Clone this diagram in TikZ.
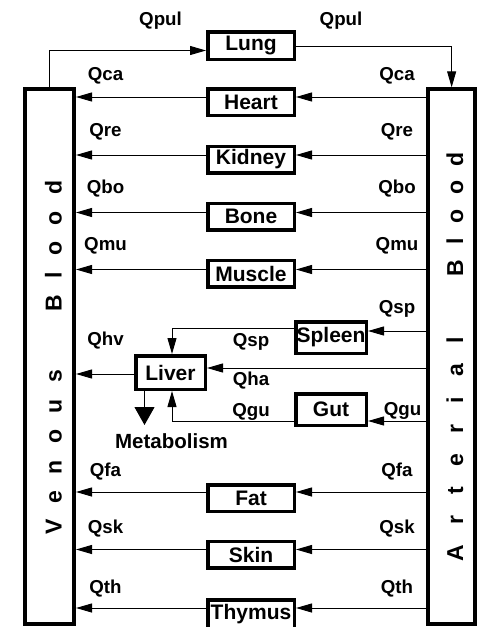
\documentclass[tikz,border=0pt]{standalone}
\usepackage{fontspec}
\setmainfont{Liberation Sans}
\usetikzlibrary{arrows.meta}
\begin{document}
\begin{tikzpicture}[x=1pt,y=-1pt,
  organ/.style={draw, line width=3.5pt, inner sep=0pt, minimum width=86.5pt, minimum height=26.5pt, font=\bfseries\fontsize{21}{21}\selectfont},
  smallorgan/.style={organ, minimum width=70.5pt, minimum height=31.5pt},
  lbl/.style={anchor=base, inner sep=0pt, font=\bfseries\fontsize{18.7}{18.7}\selectfont},
  conn/.style={line width=1pt, -{Triangle[length=16pt,width=9pt]}},
  bloodbox/.style={draw, line width=4pt, inner sep=0pt, minimum height=534.7pt},
  vtext/.style={rotate=90, anchor=base west, inner sep=0pt, font=\bfseries\fontsize{23}{23}\selectfont}]
\useasboundingbox (0,0) rectangle (479,627);
\clip (0,0) rectangle (479,627);
\fill[white] (0,0) rectangle (479,627);

% blood compartments
\node[bloodbox, minimum width=48.7pt] (venous) at (49.65,356.65) {};
\node[bloodbox, minimum width=47.3pt] (arterial) at (451.65,356.65) {};
\node[vtext] (vt1) at (61.5,534.7) {\addfontfeature{LetterSpace=72}Venous};
\node[vtext] (vt2) at (61.5,311.3) {\addfontfeature{LetterSpace=71}Blood};
\node[vtext] (at1) at (463,561.3) {\addfontfeature{LetterSpace=89}Arterial};
\node[vtext] (at2) at (463,276.3) {\addfontfeature{LetterSpace=64}Blood};

% organs
\node[organ, minimum height=27.5pt] (lung) at (251,45.5) {Lung};
\node[organ] (heart) at (251,102) {Heart};
\node[organ] (kidney) at (251,159.5) {Kidney};
\node[organ] (bone) at (251,216.5) {Bone};
\node[organ] (muscle) at (251,273.5) {Muscle};
\node[organ] (fat) at (251,498) {Fat};
\node[organ] (skin) at (251,554.5) {Skin};
\node[organ, minimum height=34pt, text depth=8.8pt] (thymus) at (251,616.75) {Thymus};
\node[smallorgan] (spleen) at (331,337.5) {Spleen};
\node[smallorgan] (gut) at (331,409.5) {Gut};
\node[smallorgan, minimum width=69.5pt, minimum height=33.5pt] (liver) at (170.5,372.5) {Liver};

% lung loop
\coordinate (lung-i) at ([yshift=-5pt]lung.west);
\draw[conn] (venous.north) |- (lung-i);
\coordinate (lung-o) at ([yshift=-1pt]lung.east);
\draw[conn] (lung-o) -| (arterial.north);

% parallel organs
\foreach \o/\d in {heart/5, kidney/4.5, bone/4, muscle/4, fat/6, skin/5, thymus/8.75}{
  \coordinate (\o-i) at ([yshift=\d pt]\o.east);
  \coordinate (\o-o) at ([yshift=\d pt]\o.west);
  \draw[conn] (\o-i -| arterial.west) -- (\o-i);
  \draw[conn] (\o-o) -- (\o-o -| venous.east);
}

% splanchnic
\coordinate (sp-i) at ([yshift=6.5pt]spleen.east);
\draw[conn] (sp-i -| arterial.west) -- (sp-i);
\coordinate (sp-o) at ([yshift=9.5pt]spleen.west);
\coordinate (lv-n) at ([xshift=1.5pt]liver.north);
\draw[conn] (sp-o) -| (lv-n);
\coordinate (ha) at ([yshift=4.5pt]liver.east);
\draw[conn] (ha -| arterial.west) -- (ha);
\coordinate (hv) at ([yshift=-1.5pt]liver.west);
\draw[conn] (hv) -- (hv -| venous.east);
\coordinate (gu-i) at ([yshift=-11.5pt]gut.east);
\draw[conn] (gu-i -| arterial.west) -- (gu-i);
\coordinate (gu-o) at ([yshift=-11.5pt]gut.west);
\coordinate (lv-s) at ([xshift=1.5pt]liver.south);
\draw[conn] (gu-o) -| (lv-s);
\coordinate (mb-s) at ([xshift=-26pt]liver.south);
\coordinate (mb-t) at (144.5,425);
\draw[line width=1pt, -{Triangle[length=18pt,width=20pt]}] (mb-s) -- (mb-t);
\node[lbl, font=\bfseries\fontsize{20.5}{20.5}\selectfont] (metab) at (171.5,448.7) {Metabolism};

% flow labels
\node[lbl] (qpul1) at (160.5,25) {Qpul};
\node[lbl] (qpul2) at (341,25) {Qpul};
\node[lbl] (qca1) at (105.5,80) {Qca};
\node[lbl] (qca2) at (397,80) {Qca};
\node[lbl] (qre1) at (105.5,136.7) {Qre};
\node[lbl] (qre2) at (397,136.7) {Qre};
\node[lbl] (qbo1) at (105.5,193.4) {Qbo};
\node[lbl] (qbo2) at (397,193.4) {Qbo};
\node[lbl] (qmu1) at (105.5,250) {Qmu};
\node[lbl] (qmu2) at (397,250) {Qmu};
\node[lbl] (qsp1) at (397,313.4) {Qsp};
\node[lbl] (qsp2) at (251,346) {Qsp};
\node[lbl] (qhv) at (105.5,345) {Qhv};
\node[lbl] (qha) at (251,385) {Qha};
\node[lbl] (qgu1) at (251,416.5) {Qgu};
\node[lbl] (qgu2) at (402.5,415) {Qgu};
\node[lbl] (qfa1) at (105.5,476) {Qfa};
\node[lbl] (qfa2) at (397,476) {Qfa};
\node[lbl] (qsk1) at (105.5,533.4) {Qsk};
\node[lbl] (qsk2) at (397,533.4) {Qsk};
\node[lbl] (qth1) at (105.5,593.4) {Qth};
\node[lbl] (qth2) at (397,593.4) {Qth};
\end{tikzpicture}
\end{document}
